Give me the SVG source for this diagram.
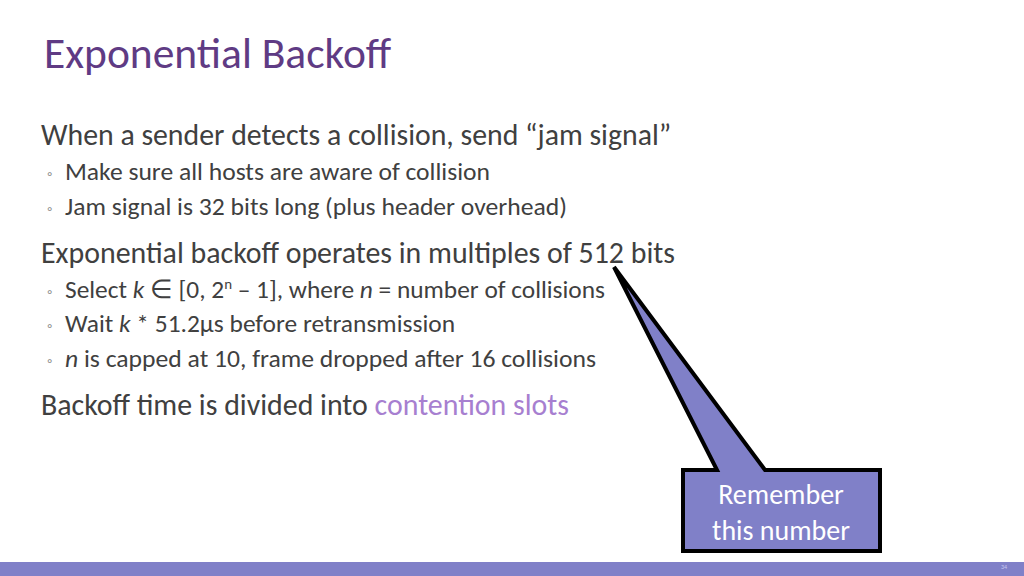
<svg xmlns="http://www.w3.org/2000/svg" width="1024" height="576" viewBox="0 0 1024 576">
<style>
text{font-family:Calibri,Carlito,"Liberation Sans",sans-serif;fill:#404040}
.l1{font-size:29.8px}.l2{font-size:25.5px}
.b{fill:#8c8c8c;font-size:15px}
</style>
<rect width="1024" height="576" fill="#fff"/>
<text x="44" y="68" font-size="43.5" style="fill:#5f3b84">Exponential Backoff</text>
<text class="l1" x="41" y="145">When a sender detects a collision, send “jam signal”</text>
<text class="b" x="47" y="179">◦</text><text class="l2" x="65" y="180" textLength="425" lengthAdjust="spacingAndGlyphs">Make sure all hosts are aware of collision</text>
<text class="b" x="47" y="214">◦</text><text class="l2" x="65" y="215" textLength="502" lengthAdjust="spacingAndGlyphs">Jam signal is 32 bits long (plus header overhead)</text>
<text class="l1" x="41" y="263" textLength="634" lengthAdjust="spacingAndGlyphs">Exponential backoff operates in multiples of 512 bits</text>
<text class="b" x="47" y="297">◦</text><text class="l2" x="65" y="298" textLength="540" lengthAdjust="spacingAndGlyphs">Select <tspan font-style="italic">k</tspan> ∈ [0, 2<tspan font-size="15" dy="-9">n</tspan><tspan dy="9"> – 1], where </tspan><tspan font-style="italic">n</tspan> = number of collisions</text>
<text class="b" x="47" y="331">◦</text><text class="l2" x="65" y="332" textLength="390" lengthAdjust="spacingAndGlyphs">Wait <tspan font-style="italic">k</tspan> * 51.2μs before retransmission</text>
<text class="b" x="47" y="366">◦</text><text class="l2" x="65" y="367" textLength="531" lengthAdjust="spacingAndGlyphs"><tspan font-style="italic">n</tspan> is capped at 10, frame dropped after 16 collisions</text>
<text class="l1" x="41" y="415" textLength="528" lengthAdjust="spacingAndGlyphs">Backoff time is divided into <tspan style="fill:#a77fd0">contention slots</tspan></text>
<g id="callout">
<path d="M683,470 H717 L614,267 L765,470 H880 V551 H683 Z" fill="#8080c8" stroke="#000" stroke-width="4" stroke-linejoin="miter"/>
<text x="781" y="504" text-anchor="middle" font-size="28" style="fill:#fff">Remember</text>
<text x="781" y="540" text-anchor="middle" font-size="28" style="fill:#fff">this number</text>
</g>
<rect y="562" width="1024" height="14" fill="#8080c8"/>
<text x="1001" y="569" font-size="6" style="fill:#c8c8f0">34</text>
</svg>
